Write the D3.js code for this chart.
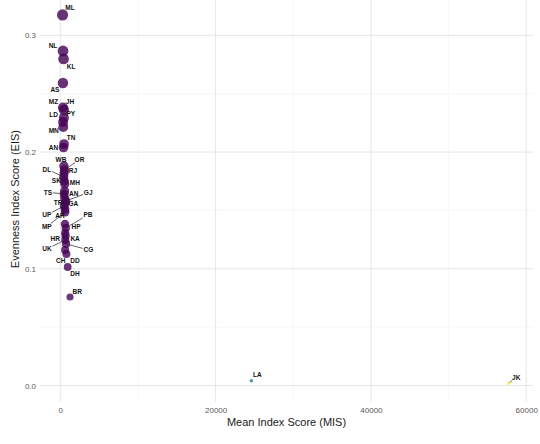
<!DOCTYPE html>
<html>
<head>
<meta charset="utf-8">
<script src="https://cdn.jsdelivr.net/npm/d3@7"></script>
<style>
  body { margin: 0; background: #ffffff; }
  svg { display: block; font-family: "Liberation Sans", Arial, sans-serif; }
</style>
</head>
<body>
<svg id="chart" width="540" height="444"></svg>
<script>
// State / UT codes, ordered by evenness score
const states = ["ML","NL","KL","AS","MZ","JH","PY","LD","MN","TN","AN","WB","OR","RJ","DL","SK","MH","AN","TS","TR","GJ","GA","UP","AR","MP","HP","PB","HR","KA","UK","CG","CH","DD","DH","BR","LA","JK"];

// Mean Index Score (MIS)
const misValues = [290,350,420,340,350,470,460,360,380,480,420,470,540,500,440,520,580,560,500,560,720,640,500,610,620,600,700,630,680,640,740,620,790,950,1250,24610,57740];

// Evenness Index Score (EIS)
const eisValues = [0.3175,0.2866,0.2798,0.2592,0.2382,0.2361,0.2293,0.2258,0.2215,0.2069,0.2039,0.1880,0.1846,0.1820,0.1786,0.1752,0.1727,0.1667,0.1641,0.1607,0.1581,0.1564,0.1538,0.1512,0.1486,0.1384,0.1350,0.1307,0.1281,0.1247,0.1213,0.1161,0.1127,0.1015,0.0758,0.0041,0.0019];

const xTicks = [0, 20000, 40000, 60000];
const xMinorTicks = [10000, 30000, 50000];
const yTicks = [0, 0.1, 0.2, 0.3];
const yMinorTicks = [0.05, 0.15, 0.25];

// Repelled label placement: pixel offset from each point, and whether a leader segment is drawn
const labelNudge = [
  [7.5,-7,0],[-10,-6,0],[7.5,8,0],[-8,7,0],[-9.5,-5.5,0],[6,-8.5,0],[7,-4,0],[-9.5,-7.5,0],
  [-9.5,4,0],[7,-6.5,0],[-10,0,0],[-3,-7,0],[15,-10.7,1],[8.7,-2.3,0],[-16.8,-8,1],[-8,-1,0],
  [10,-1.7,0],[9,2.3,0],[-16.3,-1.7,1],[-6.5,5,0],[22.3,-8.3,1],[8,1,0],[-17.3,9,1],[-5,6.7,0],
  [-18.3,14.7,1],[11,3,0],[22.3,-13,1],[-10,5.3,0],[9.5,2.3,0],[-18.3,9,1],[22.3,6,1],[-4.3,10.7,0],
  [8.5,6.7,0],[7.3,6.3,0],[7.3,-5.3,0],[6,-5.7,0],[7.6,-6,1]
];

const data = states.map((s, i) => ({ code: s, mis: misValues[i], eis: eisValues[i], nudge: labelNudge[i] }));

const svg = d3.select("#chart");
const panel = { left: 40, right: 533, top: -3.5, bottom: 401.7 };

const x = d3.scaleLinear().domain([-2614, 60873]).range([panel.left, panel.right]);
const y = d3.scaleLinear().domain([-0.0139, 0.3333]).range([panel.bottom, panel.top]);
const color = d3.scaleSequential(d3.interpolateViridis).domain(d3.extent(misValues));
const radius = d3.scalePow().exponent(0.4).domain([0, 0.32]).range([1, 5.6]);

// grid: minor lines first, then major
const grid = svg.append("g");
grid.selectAll(".vminor").data(xMinorTicks).join("line")
  .attr("x1", d => x(d)).attr("x2", d => x(d))
  .attr("y1", panel.top).attr("y2", panel.bottom)
  .attr("stroke", "#f2f2f2").attr("stroke-width", 0.6);
grid.selectAll(".hminor").data(yMinorTicks).join("line")
  .attr("y1", d => y(d)).attr("y2", d => y(d))
  .attr("x1", panel.left).attr("x2", panel.right)
  .attr("stroke", "#f2f2f2").attr("stroke-width", 0.6);
grid.selectAll(".vmajor").data(xTicks).join("line")
  .attr("x1", d => x(d)).attr("x2", d => x(d))
  .attr("y1", panel.top).attr("y2", panel.bottom)
  .attr("stroke", "#e6e6e6").attr("stroke-width", 1);
grid.selectAll(".hmajor").data(yTicks).join("line")
  .attr("y1", d => y(d)).attr("y2", d => y(d))
  .attr("x1", panel.left).attr("x2", panel.right)
  .attr("stroke", "#e6e6e6").attr("stroke-width", 1);

// axes (text only, no domain lines or tick marks)
const xAxis = svg.append("g")
  .attr("transform", `translate(0,${panel.bottom + 2})`)
  .call(d3.axisBottom(x).tickValues(xTicks).tickFormat(d3.format("d")).tickSize(0).tickPadding(4));
const yAxis = svg.append("g")
  .attr("transform", `translate(${panel.left - 3},0)`)
  .call(d3.axisLeft(y).tickValues(yTicks).tickFormat(d3.format(".1f")).tickSize(0).tickPadding(1));
[xAxis, yAxis].forEach(g => {
  g.select(".domain").remove();
  g.selectAll("text").attr("fill", "#595959").attr("font-size", 8)
    .attr("font-family", "'Liberation Sans', Arial, sans-serif");
});

// axis titles
svg.append("text")
  .attr("x", (panel.left + panel.right) / 2).attr("y", 426)
  .attr("text-anchor", "middle").attr("font-size", 11).attr("fill", "#1a1a1a")
  .text("Mean Index Score (MIS)");
svg.append("text")
  .attr("transform", `translate(19,${(panel.top + panel.bottom) / 2}) rotate(-90)`)
  .attr("text-anchor", "middle").attr("font-size", 11).attr("fill", "#1a1a1a")
  .text("Evenness Index Score (EIS)");

// points
svg.append("g").selectAll("circle").data(data).join("circle")
  .attr("cx", d => x(d.mis)).attr("cy", d => y(d.eis))
  .attr("r", d => radius(d.eis))
  .attr("fill", d => color(d.mis))
  .attr("fill-opacity", 0.8);

// labels with leader segments
const labelLayer = svg.append("g");
const segLayer = labelLayer.append("g");
const texts = labelLayer.append("g").selectAll("text").data(data).join("text")
  .attr("x", d => x(d.mis) + d.nudge[0])
  .attr("y", d => y(d.eis) + d.nudge[1])
  .attr("text-anchor", "middle").attr("dominant-baseline", "central")
  .attr("font-size", 6.5).attr("font-weight", "bold").attr("fill", "#111")
  .text(d => d.code);

texts.each(function(d) {
  if (!d.nudge[2]) return;
  const px = x(d.mis), py = y(d.eis);
  const lx = px + d.nudge[0], ly = py + d.nudge[1];
  const hw = this.getComputedTextLength() / 2 + 0.8, hh = 3.2;
  const dx = lx - px, dy = ly - py;
  const len = Math.hypot(dx, dy);
  const t = Math.min(Math.abs(dx) > 0 ? hw / Math.abs(dx) : Infinity, Math.abs(dy) > 0 ? hh / Math.abs(dy) : Infinity);
  segLayer.append("line")
    .attr("x1", px + dx / len * 1.5).attr("y1", py + dy / len * 1.5)
    .attr("x2", lx - dx * t).attr("y2", ly - dy * t)
    .attr("stroke", "#222").attr("stroke-width", 0.7);
});
</script>
</body>
</html>
